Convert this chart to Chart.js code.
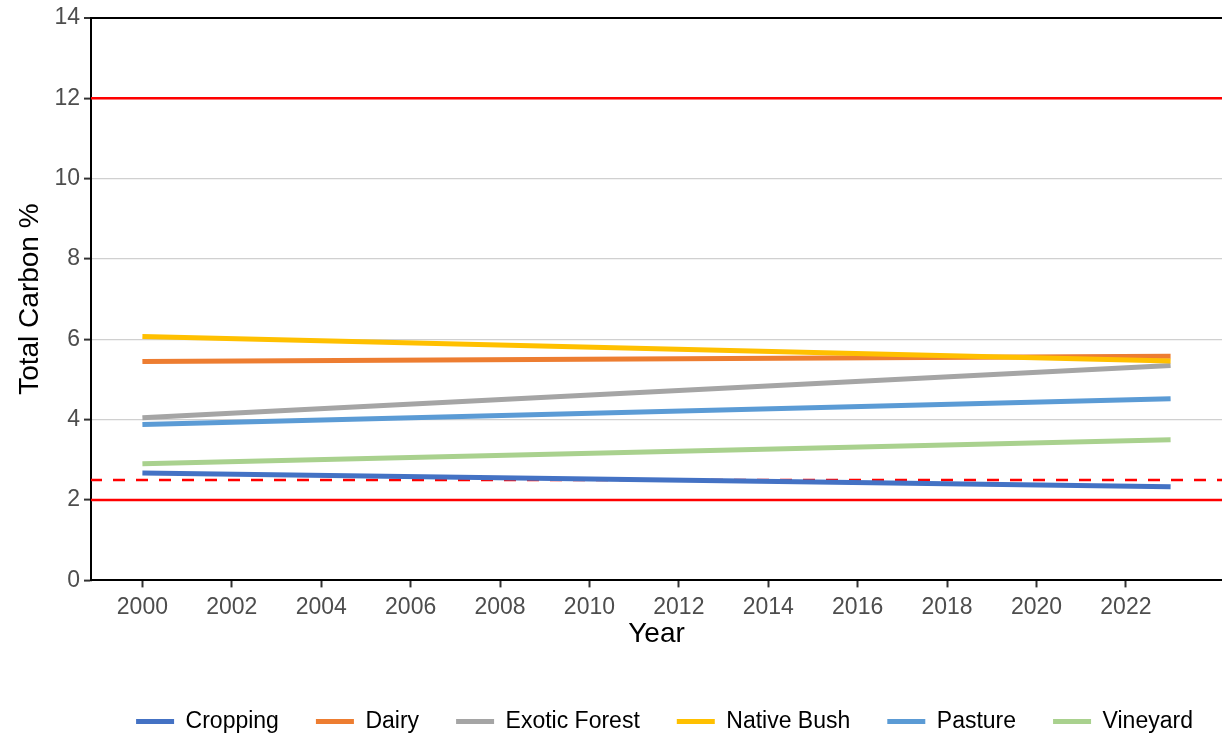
<!DOCTYPE html>
<html>
<head>
<meta charset="utf-8">
<script src="https://cdn.jsdelivr.net/npm/chart.js@4/dist/chart.umd.min.js"></script>
<style>
  html, body { margin: 0; padding: 0; background: #fff; }
  #wrap { width: 1222px; height: 735px; }
</style>
</head>
<body>
<div id="wrap"><canvas id="canvas"></canvas></div>
<script>
// данные
const years = [2000, 2023];
const cropping = [2.67, 2.33];
const dairy = [5.45, 5.58];
const exoticForest = [4.05, 5.35];
const nativeBush = [6.07, 5.46];
const pasture = [3.88, 4.52];
const vineyard = [2.90, 3.50];

const seriesNames = ['Cropping', 'Dairy', 'Exotic Forest', 'Native Bush', 'Pasture', 'Vineyard'];
const seriesValues = [cropping, dairy, exoticForest, nativeBush, pasture, vineyard];
const seriesColors = ['#4472C4', '#ED7D31', '#A5A5A5', '#FFC000', '#5B9BD5', '#A9D18E'];

const xTicks = [2000, 2002, 2004, 2006, 2008, 2010, 2012, 2014, 2016, 2018, 2020, 2022];
const xMin = 1998.85, xMax = 2024.15;   // как у ggplot с расширением 5%
const limitLines = [12, 2];             // сплошные красные
const targetLine = 2.5;                 // пунктир

let ctx = document.getElementById('canvas').getContext('2d');

let datasets = [];
for (let i = 0; i < seriesNames.length; i++) {
    datasets.push({
        label: seriesNames[i],
        data: years.map((y, j) => ({ x: y, y: seriesValues[i][j] })),
        borderColor: seriesColors[i],
        backgroundColor: seriesColors[i],
        borderWidth: 5,
        borderCapStyle: 'butt',
        pointRadius: 0,
        order: seriesNames.length - i
    });
}
limitLines.forEach(v => {
    datasets.push({
        label: '_ref',
        data: [{ x: xMin, y: v }, { x: xMax, y: v }],
        borderColor: '#FF0000',
        borderWidth: 2.5,
        pointRadius: 0,
        order: 10
    });
});
datasets.push({
    label: '_ref',
    data: [{ x: xMin, y: targetLine }, { x: xMax, y: targetLine }],
    borderColor: '#FF0000',
    borderWidth: 2.5,
    borderDash: [12, 11],
    borderDashOffset: 1,
    pointRadius: 0,
    order: 10
});

// легенда: без обводки, по порядку серий
function legendLabels(chart) {
    let items = Chart.defaults.plugins.legend.labels.generateLabels(chart);
    items = items.filter(it => it.text !== '_ref');
    items.forEach(it => { it.lineWidth = 0; });
    items.sort((a, b) => a.datasetIndex - b.datasetIndex);
    return items;
}

// легенда у ggplot чуть правее центра
const legendShift = {
    id: 'legendShift',
    afterLayout(chart) {
        chart.legend.left += 8;
        chart.legend.right += 8;
    }
};

let myChart = new Chart(ctx, {
    type: 'line',
    data: { datasets: datasets },
    plugins: [legendShift],
    options: {
        responsive: true,
        maintainAspectRatio: false,
        animation: false,
        layout: { padding: { top: 9, right: 0, left: 0, bottom: -8 } },
        plugins: {
            tooltip: { enabled: false },
            legend: {
                position: 'bottom',
                fullSize: false,
                labels: {
                    boxWidth: 38,
                    boxHeight: 5,
                    padding: 37,
                    color: '#000',
                    font: { family: 'Liberation Sans', size: 23 },
                    generateLabels: legendLabels
                }
            }
        },
        scales: {
            x: {
                type: 'linear',
                min: xMin,
                max: xMax,
                afterBuildTicks: s => { s.ticks = xTicks.map(v => ({ value: v })); },
                border: { color: '#000', width: 2 },
                grid: { drawOnChartArea: false, drawTicks: true, tickLength: 7, tickColor: '#333', tickWidth: 2 },
                ticks: {
                    color: '#4d4d4d',
                    padding: 6,
                    maxRotation: 0,
                    font: { family: 'Liberation Sans', size: 23 },
                    callback: v => String(v)
                },
                title: {
                    display: true,
                    text: 'Year',
                    color: '#000',
                    font: { family: 'Liberation Sans', size: 28, lineHeight: 0.5 },
                    padding: { top: 0, bottom: 32 }
                }
            },
            y: {
                min: 0,
                max: 14,
                afterFit: s => { s.width = 91; },
                border: { color: '#000', width: 2 },
                grid: {
                    color: c => c.tick.value === 14 ? '#000' : (c.tick.value === 0 ? 'rgba(0,0,0,0)' : '#d0d0d0'),
                    lineWidth: c => c.tick.value === 14 ? 2 : 1.2,
                    tickLength: 7,
                    tickColor: '#333',
                    tickWidth: 2
                },
                ticks: {
                    stepSize: 2,
                    color: '#4d4d4d',
                    padding: 4,
                    font: { family: 'Liberation Sans', size: 23 }
                },
                title: {
                    display: true,
                    text: 'Total Carbon %',
                    color: '#000',
                    font: { family: 'Liberation Sans', size: 28 },
                    padding: { top: 13, bottom: 0 }
                }
            }
        }
    }
});
</script>
</body>
</html>
